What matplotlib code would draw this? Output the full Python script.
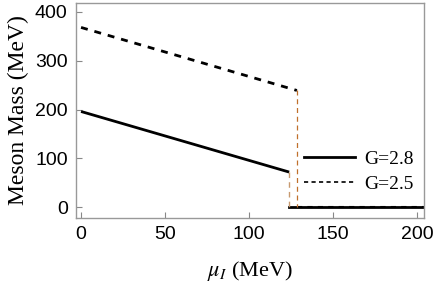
import matplotlib
matplotlib.use("Agg")
import matplotlib.pyplot as plt

plt.rcParams['mathtext.fontset'] = 'stix'

# data
mu_solid = [0, 123.8, 123.8, 204]
m_solid = [196, 72, 0, 0]
mu_dash = [0, 128.4]
m_dash = [368, 239]
mu_dash_zero = [128.4, 204]
m_dash_zero = [0, 0]
xticks = [0, 50, 100, 150, 200]
yticks = [0, 100, 200, 300, 400]

fig = plt.figure(figsize=(4.36, 2.83), dpi=100)
ax = fig.add_axes([76/436, 1-218/283, (424-76)/436, (218-3)/283])

ax.plot(mu_solid[:2], m_solid[:2], color='black', lw=2.0, solid_capstyle='butt')
ax.plot(mu_solid[2:], m_solid[2:], color='black', lw=2.0)
ax.plot([mu_solid[1], mu_solid[1]], [m_solid[1], 0], color='#c89a70', lw=1.0, ls=(0, (4, 3)))
ax.plot(mu_dash, m_dash, color='black', lw=2.0, ls=(0, (2.5, 2.5)))
ax.plot(mu_dash_zero, m_dash_zero, color='black', lw=1.5, ls=(0, (2.5, 2.5)))
ax.plot([mu_dash[1], mu_dash[1]], [m_dash[1], 0], color='#c0702c', lw=0.9, ls=(0, (4, 3)))

# legend proxies
ax.plot([], [], color='black', lw=2.0, label='G=2.8')
ax.plot([], [], color='black', lw=1.2, ls=(0, (2.5, 2.0)), label='G=2.5')
handles, labels = ax.get_legend_handles_labels()
leg = ax.legend(handles, labels, loc='center left', bbox_to_anchor=(0.605, 0.215),
                frameon=False, prop={'family': 'Liberation Serif', 'size': 14},
                handlelength=2.6, labelspacing=0.4, handletextpad=0.5)

ax.set_xlim(-3, 204)
ax.set_ylim(-22, 418)
ax.set_xticks(xticks)
ax.set_yticks(yticks)
for lab in ax.get_xticklabels() + ax.get_yticklabels():
    lab.set_fontfamily('Liberation Sans')
    lab.set_fontsize(14)
ax.tick_params(direction='in', length=4, color='#888888', width=0.8, pad=6)
for s in ax.spines.values():
    s.set_color('#999999')
    s.set_linewidth(1.0)

ax.set_ylabel('Meson Mass (MeV)', family='Liberation Serif', fontsize=17, labelpad=4)
ax.set_xlabel(r'$\mu_I$ (MeV)', family='Liberation Serif', fontsize=16, labelpad=11)

fig.savefig('out.png', dpi=100)
